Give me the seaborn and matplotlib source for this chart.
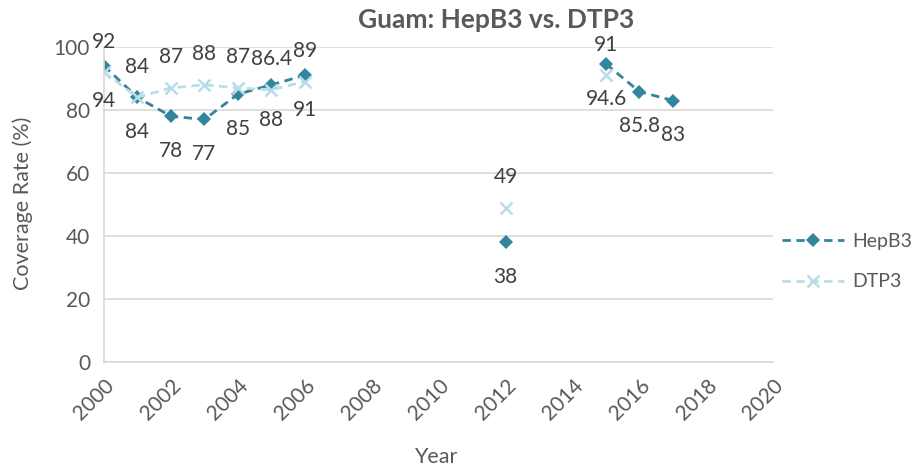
"""
Guam: HepB3 vs. DTP3 coverage rates, redrawn with seaborn.
"""
import numpy as np
import pandas as pd
import matplotlib
matplotlib.use("Agg")
import matplotlib.pyplot as plt
from matplotlib.lines import Line2D
import seaborn as sns

years = [2000, 2001, 2002, 2003, 2004, 2005, 2006, 2012, 2015, 2016, 2017]
hepb3 = [94, 84, 78, 77, 85, 88, 91, 38, 94.6, 85.8, 83]
dtp3 = [92, 84, 87, 88, 87, 86.4, 89, 49, 91, np.nan, np.nan]
segment = [0, 0, 0, 0, 0, 0, 0, 1, 2, 2, 2]
hepb3_labels = ["94", "84", "78", "77", "85", "88", "91", "38", "94.6", "85.8", "83"]
dtp3_labels = ["92", "84", "87", "88", "87", "86.4", "89", "49", "91", "", ""]
xticks = list(range(2000, 2021, 2))
yticks = [0, 20, 40, 60, 80, 100]

HEP_COLOR = "#31859C"
DTP_COLOR = "#B7DEE8"
TEXT = "#595959"
GRID = "#D9D9D9"
DASH = (0, (3, 2))

sns.set_style("white")
plt.rcParams["font.family"] = ["Lato", "DejaVu Sans"]

df = pd.DataFrame({"year": years, "HepB3": hepb3, "DTP3": dtp3, "seg": segment})

fig = plt.figure(figsize=(9.12, 4.70), dpi=100)
ax = fig.add_axes([0.114, 0.230, 0.734, 0.670])

sns.lineplot(data=df, x="year", y="HepB3", units="seg", estimator=None,
             color=HEP_COLOR, marker="D", markersize=7, markeredgewidth=0,
             linewidth=2, ax=ax)
sns.lineplot(data=df, x="year", y="DTP3", units="seg", estimator=None,
             color=DTP_COLOR, marker="x", markersize=9, markeredgewidth=1.8,
             markeredgecolor=DTP_COLOR, linewidth=2, ax=ax)
for ln in ax.lines:
    ln.set_linestyle(DASH)

# data labels: DTP3 above, HepB3 below
for x, y, t in zip(years, dtp3, dtp3_labels):
    if t:
        ax.annotate(t, (x, y), xytext=(0, 22), textcoords="offset points",
                    ha="center", va="center", fontsize=15, color="#404040")
for x, y, t in zip(years, hepb3, hepb3_labels):
    ax.annotate(t, (x, y), xytext=(0, -25), textcoords="offset points",
                ha="center", va="center", fontsize=15, color="#404040")

ax.set_xlim(2000, 2020)
ax.set_ylim(0, 100)
ax.set_xticks(xticks)
ax.set_yticks(yticks)
ax.set_xticklabels([str(v) for v in xticks], rotation=45, ha="right",
                   rotation_mode="anchor", fontsize=15, color=TEXT)
ax.set_yticklabels([str(v) for v in yticks], fontsize=15, color=TEXT)
ax.tick_params(axis="both", length=0, pad=10)
ax.yaxis.grid(True, color=GRID, linewidth=1.2)
ax.set_axisbelow(True)
for side in ["top", "right"]:
    ax.spines[side].set_visible(False)
for side in ["left", "bottom"]:
    ax.spines[side].set_color(GRID)
    ax.spines[side].set_linewidth(1.2)

ax.set_xlabel("Year", fontsize=15.5, color=TEXT, va="center")
ax.set_ylabel("Coverage Rate (%)", fontsize=15.5, color=TEXT, va="center")
ax.xaxis.set_label_coords(0.496, -0.302)
ax.yaxis.set_label_coords(-0.121, 0.505)

fig.text(0.544, 0.957, "Guam: HepB3 vs. DTP3", ha="center", va="center",
         fontsize=19, fontweight="bold", color=TEXT)

handles = [
    Line2D([], [], color=HEP_COLOR, linestyle=DASH, linewidth=2,
           marker="D", markersize=7, markeredgewidth=0),
    Line2D([], [], color=DTP_COLOR, linestyle=DASH, linewidth=2,
           marker="x", markersize=9, markeredgewidth=1.8),
]
leg = fig.legend(handles, ["HepB3", "DTP3"], loc="center left",
                 bbox_to_anchor=(0.838, 0.443), frameon=False, fontsize=14,
                 handlelength=3.2, labelspacing=1.2, handletextpad=0.4)
for t in leg.get_texts():
    t.set_color(TEXT)

fig.savefig("out.png", dpi=100)
plt.close(fig)
